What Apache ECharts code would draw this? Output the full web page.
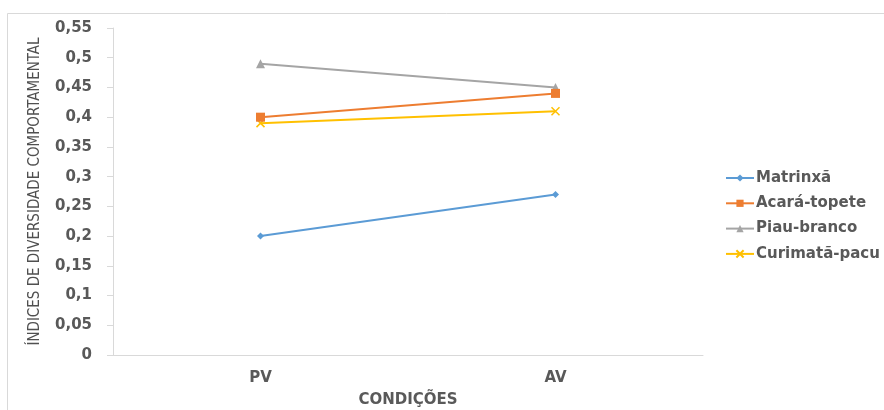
<!DOCTYPE html>
<html>
<head>
<meta charset="utf-8">
<script src="https://cdn.jsdelivr.net/npm/echarts@6/dist/echarts.min.js"></script>
<style>
html,body{margin:0;padding:0;background:#fff;}
#chart{width:884px;height:410px;}
</style>
</head>
<body>
<div id="chart"></div>
<script>
var categories = ['PV', 'AV'];
var matrinxa = [0.20, 0.27];
var acaraTopete = [0.40, 0.44];
var piauBranco = [0.49, 0.45];
var curimataPacu = [0.39, 0.41];
var yTickLabels = ['0', '0,05', '0,1', '0,15', '0,2', '0,25', '0,3', '0,35', '0,4', '0,45', '0,5', '0,55'];

var txt = '#595959';
var font = 'DejaVu Sans';
var chart = echarts.init(document.getElementById('chart'), null, {renderer: 'canvas'});
chart.setOption({
  animation: false,
  backgroundColor: '#ffffff',
  graphic: [{
    type: 'rect',
    shape: {x: 7.5, y: 13.5, width: 900, height: 420},
    style: {fill: 'none', stroke: '#D9D9D9', lineWidth: 1},
    silent: true
  }],
  grid: {left: 113, right: 181, top: 28, bottom: 55, containLabel: false, outerBoundsMode: 'none'},
  legend: {
    orient: 'vertical',
    left: 720,
    top: 165.5,
    itemWidth: 28,
    itemHeight: 9,
    itemGap: 10.3,
    textStyle: {color: txt, fontFamily: font, fontWeight: 'bold', fontSize: 15, padding: [0, 0, 0, -3]},
    data: ['Matrinxã', 'Acará-topete', 'Piau-branco', 'Curimatã-pacu']
  },
  xAxis: {
    type: 'category',
    data: categories,
    boundaryGap: true,
    name: 'CONDIÇÕES',
    nameLocation: 'middle',
    nameGap: 38,
    nameTextStyle: {color: txt, fontFamily: font, fontWeight: 'bold', fontSize: 15},
    axisLine: {lineStyle: {color: '#D9D9D9', width: 1}},
    axisTick: {show: false},
    axisLabel: {color: txt, fontFamily: font, fontWeight: 'bold', fontSize: 15, margin: 16}
  },
  yAxis: {
    type: 'value',
    min: 0,
    max: 0.55,
    interval: 0.05,
    name: 'ÍNDICES DE DIVERSIDADE COMPORTAMENTAL',
    nameLocation: 'middle',
    nameGap: 70,
    nameTextStyle: {color: '#505050', fontFamily: 'Liberation Sans Narrow, DejaVu Sans Condensed, Liberation Sans', fontSize: 15, fontWeight: 500},
    axisLine: {show: true, lineStyle: {color: '#D9D9D9', width: 1}},
    axisTick: {show: true, length: 6, lineStyle: {color: '#D9D9D9'}},
    splitLine: {show: false},
    axisLabel: {
      color: txt, fontFamily: font, fontWeight: 'bold', fontSize: 15, margin: 21,
      formatter: function (v, i) { return yTickLabels[i]; }
    }
  },
  series: [
    {
      name: 'Matrinxã', type: 'line', data: matrinxa,
      symbol: 'diamond', symbolSize: 7, z: 2,
      lineStyle: {color: '#5B9BD5', width: 2},
      itemStyle: {color: '#5B9BD5'}
    },
    {
      name: 'Acará-topete', type: 'line', data: acaraTopete,
      symbol: 'rect', symbolSize: 9, z: 4,
      lineStyle: {color: '#ED7D31', width: 2},
      itemStyle: {color: '#ED7D31'}
    },
    {
      name: 'Piau-branco', type: 'line', data: piauBranco,
      symbol: 'triangle', symbolSize: 9, z: 3,
      lineStyle: {color: '#A5A5A5', width: 2},
      itemStyle: {color: '#A5A5A5'}
    },
    {
      name: 'Curimatã-pacu', type: 'line', data: curimataPacu,
      symbol: 'path://M0,0L10,10M10,0L0,10', symbolSize: 8, z: 2,
      lineStyle: {color: '#FFC000', width: 2},
      itemStyle: {color: '#FFC000', borderColor: '#FFC000', borderWidth: 1.5}
    }
  ]
});
</script>
</body>
</html>
